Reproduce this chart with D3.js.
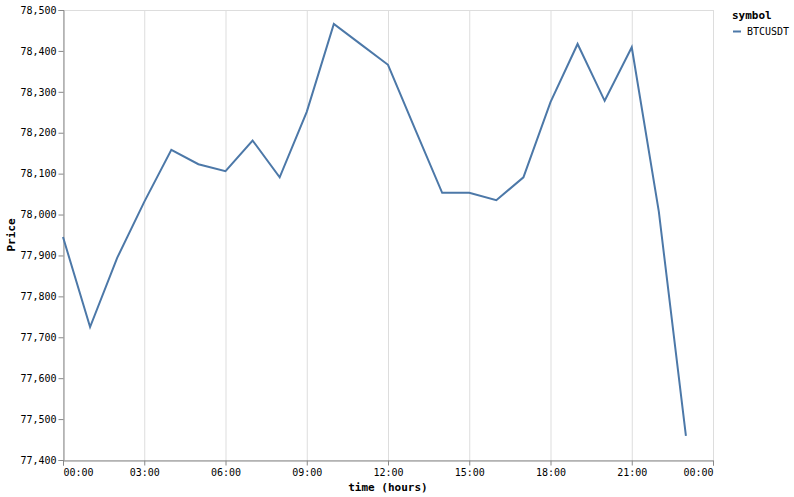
<!DOCTYPE html>
<html>
<head>
<meta charset="utf-8">
<script src="https://cdn.jsdelivr.net/npm/d3@7"></script>
<style>
  body { margin: 0; background: #fff; }
  text { font-family: "DejaVu Sans Mono", monospace; fill: #000; }
</style>
</head>
<body>
<svg width="794" height="497"></svg>
<script>
// hourly closing prices, one day
const symbol = 'BTCUSDT';
const hours = [0,1,2,3,4,5,6,7,8,9,10,11,12,13,14,15,16,17,18,19,20,21,22,23];
const prices = [77945, 77725, 77894, 78031, 78158, 78123, 78106, 78181, 78091, 78251,
                78466, 78416, 78366, 78209, 78053, 78053, 78035, 78091, 78275, 78417,
                78278, 78409, 78007, 77459];
const yTicks = [77400,77500,77600,77700,77800,77900,78000,78100,78200,78300,78400,78500];

const svg = d3.select('svg');
const margin = {left: 63, top: 10, right: 81, bottom: 37};
const width = 650, height = 450;

const day = new Date(2024, 0, 1);
const data = hours.map((h, i) => ({t: d3.timeHour.offset(day, h), p: prices[i]}));

const x = d3.scaleTime()
  .domain([day, d3.timeDay.offset(day, 1)])
  .range([0, width]);
const y = d3.scaleLinear()
  .domain([77400, 78500])
  .range([height, 0]);

const g = svg.append('g').attr('transform', `translate(${margin.left},${margin.top})`);

const xTicks = x.ticks(d3.timeHour.every(3));

// view border
g.append('rect')
  .attr('x', 0.5).attr('y', 0.5).attr('width', width).attr('height', height)
  .attr('fill', 'none').attr('stroke', '#ddd');

// vertical grid only
g.append('g').selectAll('line').data(xTicks).enter().append('line')
  .attr('x1', d => x(d) + 0.5).attr('x2', d => x(d) + 0.5)
  .attr('y1', 0).attr('y2', height)
  .attr('stroke', '#ddd');

// axes
const xAxis = g.append('g')
  .attr('transform', `translate(0,${height + 0.5})`)
  .call(d3.axisBottom(x).tickValues(xTicks).tickFormat(d3.timeFormat('%H:%M')).tickSizeOuter(0).tickSize(5).tickPadding(3));
const yAxis = g.append('g')
  .attr('transform', 'translate(0.5,0)')
  .call(d3.axisLeft(y).tickValues(yTicks).tickFormat(d3.format(',')).tickSizeOuter(0).tickSize(5).tickPadding(2));

[xAxis, yAxis].forEach(a => {
  a.select('.domain').attr('stroke', '#888');
  a.selectAll('.tick line').attr('stroke', '#888');
  a.selectAll('text').attr('font-size', 10).attr('font-family', 'DejaVu Sans Mono').attr('fill', '#000');
});
xAxis.selectAll('.tick text')
  .attr('text-anchor', (d, i) => i === 0 ? 'start' : (i === xTicks.length - 1 ? 'end' : 'middle'));

// line
g.append('path')
  .datum(data)
  .attr('fill', 'none')
  .attr('stroke', '#4c78a8')
  .attr('stroke-width', 2)
  .attr('d', d3.line().x(d => x(d.t)).y(d => y(d.p)));

// titles
svg.append('text')
  .attr('x', margin.left + width / 2).attr('y', 491)
  .attr('text-anchor', 'middle').attr('font-size', 11).attr('font-weight', 'bold')
  .text('time (hours)');
svg.append('text')
  .attr('transform', `translate(15,${margin.top + height / 2}) rotate(-90)`)
  .attr('text-anchor', 'middle').attr('font-size', 11).attr('font-weight', 'bold')
  .text('Price');

// legend
const legend = svg.append('g').attr('transform', 'translate(732,0)');
legend.append('text').attr('x', 0).attr('y', 19)
  .attr('font-size', 11).attr('font-weight', 'bold').text('symbol');
legend.append('line').attr('x1', 1).attr('x2', 9).attr('y1', 31.5).attr('y2', 31.5)
  .attr('stroke', '#4c78a8').attr('stroke-width', 2);
legend.append('text').attr('x', 15).attr('y', 35)
  .attr('font-size', 10).text(symbol);
</script>
</body>
</html>
